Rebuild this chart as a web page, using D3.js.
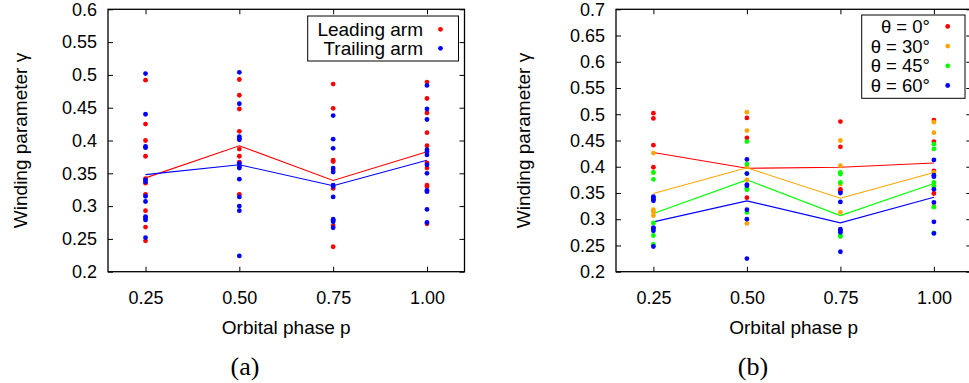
<!DOCTYPE html>
<html><head><meta charset="utf-8">
<script src="https://cdn.jsdelivr.net/npm/d3@7"></script>
<style>
html,body{margin:0;padding:0;background:#fff;overflow:hidden}
svg{display:block}
text{font-family:"Liberation Sans",Arial,Helvetica,sans-serif;fill:#000}
</style></head>
<body><svg id="chart" width="969" height="383"></svg>
<script>
// ---------- data ----------
const phases = [0.25, 0.50, 0.75, 1.00];
const xTickLabels = ["0.25", "0.50", "0.75", "1.00"];
const yTicksA = [0.2, 0.25, 0.3, 0.35, 0.4, 0.45, 0.5, 0.55, 0.6];
const yTickLabelsA = ["0.2", "0.25", "0.3", "0.35", "0.4", "0.45", "0.5", "0.55", "0.6"];
const yTicksB = [0.2, 0.25, 0.3, 0.35, 0.4, 0.45, 0.5, 0.55, 0.6, 0.65, 0.7];
const yTickLabelsB = ["0.2", "0.25", "0.3", "0.35", "0.4", "0.45", "0.5", "0.55", "0.6", "0.65", "0.7"];

// Panel (a)
const leadingPoints = [
  [0.492, 0.425, 0.400, 0.376, 0.342, 0.335, 0.318, 0.293, 0.268, 0.247],
  [0.493, 0.469, 0.448, 0.414, 0.387, 0.376, 0.367, 0.318],
  [0.486, 0.449, 0.370, 0.368, 0.355, 0.327, 0.270, 0.238],
  [0.489, 0.464, 0.442, 0.412, 0.392, 0.366, 0.358, 0.332, 0.330, 0.273]
];
const trailingPoints = [
  [0.502, 0.440, 0.391, 0.389, 0.340, 0.337, 0.315, 0.307, 0.284, 0.282, 0.279, 0.252],
  [0.504, 0.456, 0.406, 0.403, 0.401, 0.365, 0.360, 0.358, 0.341, 0.314, 0.300, 0.293, 0.224],
  [0.438, 0.402, 0.388, 0.358, 0.352, 0.332, 0.330, 0.314, 0.280, 0.278, 0.276, 0.267],
  [0.484, 0.448, 0.432, 0.386, 0.383, 0.378, 0.363, 0.350, 0.324, 0.322, 0.295, 0.275]
];
const leadingMean = [0.343, 0.392, 0.339, 0.383];
const trailingMean = [0.348, 0.363, 0.331, 0.370];

// Panel (b)
const theta0Points = [
  [0.502, 0.492, 0.441, 0.399],
  [0.493, 0.455, 0.341],
  [0.486, 0.438, 0.357, 0.353],
  [0.489, 0.448, 0.392, 0.349]
];
const theta30Points = [
  [0.426, 0.389, 0.318, 0.314, 0.307],
  [0.504, 0.469, 0.400, 0.375, 0.292],
  [0.450, 0.402, 0.367, 0.313],
  [0.485, 0.465, 0.389, 0.365, 0.325]
];
const theta45Points = [
  [0.389, 0.376, 0.293, 0.269, 0.252],
  [0.448, 0.405, 0.387, 0.359, 0.356, 0.313],
  [0.389, 0.386, 0.370, 0.270, 0.267],
  [0.443, 0.434, 0.370, 0.362, 0.323, 0.274]
];
const theta60Points = [
  [0.343, 0.341, 0.338, 0.335, 0.284, 0.282, 0.278, 0.248],
  [0.414, 0.387, 0.366, 0.364, 0.318, 0.300, 0.225],
  [0.350, 0.333, 0.281, 0.278, 0.275, 0.238],
  [0.413, 0.384, 0.381, 0.357, 0.332, 0.295, 0.273]
];
const theta0Mean = [0.427, 0.397, 0.399, 0.407];
const theta30Mean = [0.349, 0.398, 0.340, 0.389];
const theta45Mean = [0.311, 0.375, 0.307, 0.368];
const theta60Mean = [0.295, 0.335, 0.293, 0.342];

const seriesA = [
  {name: "Leading arm", color: "#ff0000", points: leadingPoints, mean: leadingMean},
  {name: "Trailing arm", color: "#0000ff", points: trailingPoints, mean: trailingMean}
];
const seriesB = [
  {name: "θ = 0°", color: "#ff0000", points: theta0Points, mean: theta0Mean},
  {name: "θ = 30°", color: "#ffa500", points: theta30Points, mean: theta30Mean},
  {name: "θ = 45°", color: "#00ff00", points: theta45Points, mean: theta45Mean},
  {name: "θ = 60°", color: "#0000ff", points: theta60Points, mean: theta60Mean}
];

// ---------- drawing ----------
const svg = d3.select("#chart");

function drawPanel(cfg) {
  const x = d3.scaleLinear().domain([0.15, 1.1]).range([cfg.left, cfg.right]);
  const y = d3.scaleLinear().domain(cfg.yDomain).range([271.7, 9.3]);
  const g = svg.append("g");
  const tickLen = 5;

  const bottom = g.append("g").attr("transform", `translate(0,${y.range()[0]})`)
    .call(d3.axisBottom(x).tickValues(phases).tickFormat((d, i) => xTickLabels[i]).tickSizeInner(-tickLen).tickSizeOuter(0).tickPadding(16));
  const top = g.append("g").attr("transform", `translate(0,${y.range()[1]})`)
    .call(d3.axisTop(x).tickValues(phases).tickFormat("").tickSizeInner(-tickLen).tickSizeOuter(0));
  const left = g.append("g").attr("transform", `translate(${cfg.left},0)`)
    .call(d3.axisLeft(y).tickValues(cfg.yTicks).tickFormat((d, i) => cfg.yLabels[i]).tickSizeInner(-tickLen).tickSizeOuter(0).tickPadding(11));
  const right = g.append("g").attr("transform", `translate(${cfg.right},0)`)
    .call(d3.axisRight(y).tickValues(cfg.yTicks).tickFormat("").tickSizeInner(-tickLen).tickSizeOuter(0));
  [bottom, top, left, right].forEach(a => {
    a.select(".domain").remove();
    a.selectAll(".tick line").attr("stroke", "#000").attr("stroke-width", 1);
    a.selectAll("text").attr("font-size", 18).attr("font-family", "Liberation Sans, Arial, sans-serif").attr("fill", "#000");
  });
  bottom.selectAll("text").attr("dy", "0.35em").attr("y", 26);

  g.append("rect").attr("x", cfg.left).attr("y", y.range()[1])
    .attr("width", cfg.right - cfg.left).attr("height", y.range()[0] - y.range()[1])
    .attr("fill", "none").attr("stroke", "#000").attr("stroke-width", 1.3);

  const line = d3.line().x((d, i) => x(phases[i])).y(d => y(d));
  cfg.series.forEach(s => {
    g.append("path").datum(s.mean).attr("d", line)
      .attr("fill", "none").attr("stroke", s.color).attr("stroke-width", 1.1);
  });
  cfg.series.forEach(s => {
    const pts = [];
    s.points.forEach((arr, i) => arr.forEach(v => pts.push([phases[i], v])));
    g.append("g").selectAll("circle").data(pts).join("circle")
      .attr("cx", d => x(d[0])).attr("cy", d => y(d[1])).attr("r", 2.4)
      .attr("fill", s.color);
  });

  const lg = g.append("g");
  lg.append("rect").attr("x", cfg.legend.x0).attr("y", cfg.legend.y0)
    .attr("width", cfg.legend.x1 - cfg.legend.x0).attr("height", cfg.legend.y1 - cfg.legend.y0)
    .attr("fill", "#fff").attr("stroke", "#000").attr("stroke-width", 1);
  cfg.series.forEach((s, i) => {
    const yy = cfg.legend.rowY[i];
    lg.append("text").attr("x", cfg.legend.textRight).attr("y", yy).attr("dy", "0.35em")
      .attr("text-anchor", "end").attr("font-size", cfg.legend.fontSize).text(s.name);
    lg.append("circle").attr("cx", cfg.legend.markX).attr("cy", yy).attr("r", 2.4).attr("fill", s.color);
  });

  g.append("text").attr("x", (cfg.left + cfg.right) / 2).attr("y", 327).attr("dy", "0.35em")
    .attr("text-anchor", "middle").attr("font-size", 19).text("Orbital phase p");
  g.append("text").attr("transform", `translate(${cfg.yTitleX},${(y.range()[0] + y.range()[1]) / 2}) rotate(-90)`)
    .attr("dy", "0.35em").attr("text-anchor", "middle").attr("font-size", 19).text("Winding parameter γ");
  g.append("text").attr("x", cfg.capX).attr("y", 366).attr("dy", "0.33em")
    .attr("text-anchor", "middle").attr("font-size", 26)
    .style("font-family", "'Liberation Serif','DejaVu Serif',serif").text(cfg.caption);
}

drawPanel({
  left: 108, right: 464.5, yDomain: [0.2, 0.6], yTicks: yTicksA, yLabels: yTickLabelsA,
  series: seriesA, yTitleX: 20, capX: 245, caption: "(a)",
  legend: {x0: 307.7, x1: 458.5, y0: 16, y1: 61, rowY: [29.3, 48.3], textRight: 423, markX: 440.5, fontSize: 19}
});
drawPanel({
  left: 616, right: 971.3, yDomain: [0.2, 0.7], yTicks: yTicksB, yLabels: yTickLabelsB,
  series: seriesB, yTitleX: 523, capX: 753, caption: "(b)",
  legend: {x0: 861.7, x1: 965, y0: 15, y1: 98.3, rowY: [26.4, 46.1, 65.8, 85.5], textRight: 930, markX: 947.7, fontSize: 18.5}
});
</script></body></html>
